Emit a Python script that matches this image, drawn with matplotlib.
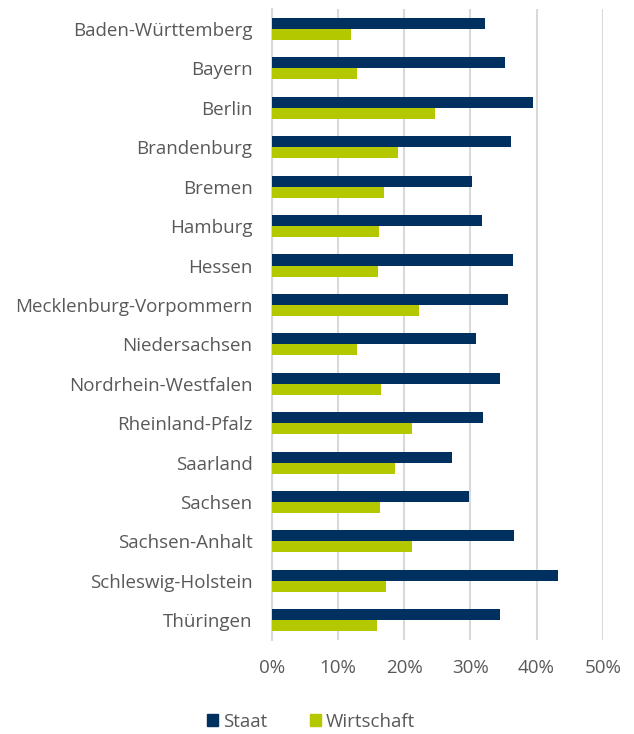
import numpy as np
import matplotlib
matplotlib.use("Agg")
import matplotlib.pyplot as plt
from matplotlib.patches import Patch
from matplotlib.ticker import PercentFormatter

STAAT_COLOR = "#00305F"
WIRT_COLOR = "#B4C800"
GRID = "#D9D9D9"
INK = "#595959"

laender = [
    "Baden-Württemberg", "Bayern", "Berlin", "Brandenburg", "Bremen", "Hamburg",
    "Hessen", "Mecklenburg-Vorpommern", "Niedersachsen", "Nordrhein-Westfalen",
    "Rheinland-Pfalz", "Saarland", "Sachsen", "Sachsen-Anhalt",
    "Schleswig-Holstein", "Thüringen",
]
staat = [32.2, 35.3, 39.4, 36.1, 30.3, 31.7, 36.4, 35.7, 30.9, 34.5,
         31.9, 27.2, 29.8, 36.6, 43.3, 34.4]
wirtschaft = [12.0, 12.8, 24.6, 19.0, 17.0, 16.2, 16.0, 22.2, 12.8, 16.5,
              21.1, 18.6, 16.4, 21.1, 17.3, 15.8]
xticks = [0, 10, 20, 30, 40, 50]

plt.rcParams["font.family"] = ["Open Sans", "DejaVu Sans"]

fig = plt.figure(figsize=(6.34, 7.34), dpi=100)
ax = fig.add_axes([272 / 634, 1 - 640 / 734, (602.7 - 272) / 634, (640 - 9.3) / 734])

y = np.arange(len(laender))
h = 0.28
ax.barh(y - h / 2, staat, height=h, color=STAAT_COLOR, zorder=3)
ax.barh(y + h / 2, wirtschaft, height=h, color=WIRT_COLOR, zorder=3)

ax.set_ylim(len(laender) - 0.5, -0.5)
ax.set_xlim(0, 50)
ax.set_yticks(y, laender)
ax.set_xticks(xticks)
ax.xaxis.set_major_formatter(PercentFormatter(decimals=0))
ax.tick_params(length=0, labelsize=13.5, colors=INK)
ax.tick_params(axis="y", pad=14)
ax.tick_params(axis="x", pad=14)

ax.grid(axis="x", color=GRID, linewidth=1.5, zorder=0)
for s in ["top", "right", "bottom"]:
    ax.spines[s].set_visible(False)
ax.spines["left"].set_color(GRID)
ax.spines["left"].set_linewidth(1.5)

handles = [Patch(color=STAAT_COLOR, label="Staat"), Patch(color=WIRT_COLOR, label="Wirtschaft")]
fig.legend(handles=handles, loc="center", bbox_to_anchor=(311 / 634, 1 - 722 / 734),
           ncol=2, frameon=False, handlelength=0.6, handleheight=0.6,
           handletextpad=0.25, columnspacing=2.3, fontsize=13.5, labelcolor=INK)

fig.savefig("out.png", dpi=100)
